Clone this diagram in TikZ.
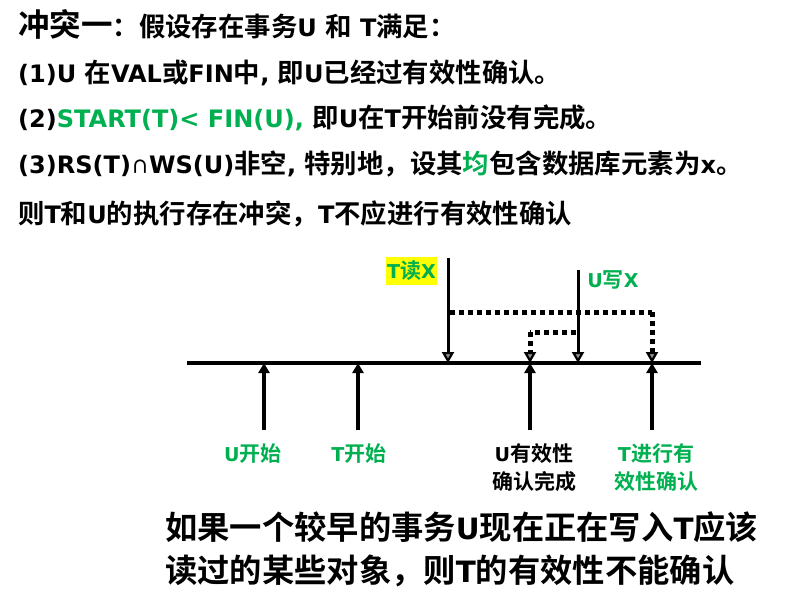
\documentclass[tikz,border=0pt]{standalone}
\usepackage{fontspec}
\setmainfont{Noto Sans CJK SC}[BoldFont={Noto Sans CJK SC Bold}]
\newfontfamily\latf{DejaVu Sans}[Scale=0.91]
\newcommand\la[1]{{\latf #1}}
\usetikzlibrary{arrows.meta}
\definecolor{tgreen}{RGB}{0,176,80}
\definecolor{hlyellow}{RGB}{255,255,0}
\tikzset{
  txt/.style={anchor=base west,inner sep=0pt,font=\bfseries\fontsize{26.4}{30}\selectfont},
  lbl/.style={inner sep=0pt,align=center,font=\bfseries\fontsize{21}{28}\selectfont},
  big/.style={anchor=base west,inner sep=0pt,font=\bfseries\fontsize{32.3}{38}\selectfont},
  axis/.style={line width=3.5pt},
  uphead/.style={},
  upevt/.style={line width=4.5pt,-{Triangle[width=11pt,length=10pt]}},
  dnevt/.style={line width=3pt,-{Triangle[width=12pt,length=11pt,line width=2.2pt,fill=black!45]}},
  dot/.style={line width=5pt,dash pattern=on 5pt off 4pt,-{Triangle[width=12pt,length=11pt,line width=2.2pt,fill=black!45]}},
  dotline/.style={line width=5pt,dash pattern=on 5pt off 4pt}
}
\begin{document}
\begin{tikzpicture}[x=1pt,y=-1pt]
\useasboundingbox (0,0) rectangle (804,589);
% text
\node[txt] (l1) at (18,36) {{\fontsize{31.5}{34}\selectfont 冲突一}：假设存在事务\la{U }和\la{ T}满足：};
\node[txt] (l2) at (18,82) {\la{(1)U }在\la{VAL}或\la{FIN}中\la{, }即\la{U}已经过有效性确认。};
\node[txt] (l3) at (18,127) {\la{(2)}\textcolor{tgreen}{\la{START(T)< FIN(U),}}\la{ }即\la{U}在\la{T}开始前没有完成。};
\node[txt] (l4) at (18,173) {\la{(3)RS(T)}{\fontsize{18}{20}\selectfont ∩}\la{WS(U)}非空\la{, }特别地，设其\textcolor{tgreen}{均}包含数据库元素为\la{x}。};
\node[txt] (l5) at (18,223) {则\la{T}和\la{U}的执行存在冲突，\la{T}不应进行有效性确认};
% timeline
\coordinate (a0) at (187,363);
\coordinate (a1) at (701,363);
\draw[axis] (a0) -- (a1);
% event points on axis
\coordinate (pUs) at (264,363);
\coordinate (pTs) at (358,363);
\coordinate (pTr) at (448,363);
\coordinate (pUv) at (530,363);
\coordinate (pUw) at (578,363);
\coordinate (pTv) at (652,363);
% up arrows
\coordinate (bUs) at (264,430);
\coordinate (bTs) at (358,430);
\coordinate (bUv) at (530,430);
\coordinate (bTv) at (652,430);
\draw[upevt] (bUs) -- (pUs);
\draw[upevt] (bTs) -- (pTs);
\draw[upevt] (bUv) -- (pUv);
\draw[upevt] (bTv) -- (pTv);
% down arrows
\coordinate (tTr) at (448,258);
\coordinate (tUw) at (578,270);
\draw[dnevt] (tTr) -- (pTr);
\draw[dnevt] (tUw) -- (pUw);
% dotted
\coordinate (d1) at (450,312);
\coordinate (d2) at (652,312);
\coordinate (d3) at (576,332);
\coordinate (d4) at (530,332);
\draw[dotline] (d1) -- (d2);
\draw[dot] (d2) -- (pTv);
\draw[dotline] (d3) -- (d4);
\draw[dot] (d4) -- (pUv);
% labels
\node[lbl,fill=hlyellow,text=tgreen,inner xsep=1pt,minimum height=28pt] (tr) at (411.5,271) {\la{T}读\la{X}};
\node[lbl,text=tgreen] (uw) at (613,280) {\la{U}写\la{X}};
\node[lbl,text=tgreen] (us) at (253,454) {\la{U}开始};
\node[lbl,text=tgreen] (ts) at (359,454) {\la{T}开始};
\node[lbl] (uv) at (534,468) {\la{U}有效性\\确认完成};
\node[lbl,text=tgreen] (tv) at (656,468) {\la{T}进行有\\效性确认};
% bottom text
\node[big] (b1) at (165,539) {如果一个较早的事务\la{U}现在正在写入\la{T}应该};
\node[big] (b2) at (165,582) {读过的某些对象，则\la{T}的有效性不能确认};
\end{tikzpicture}
\end{document}
